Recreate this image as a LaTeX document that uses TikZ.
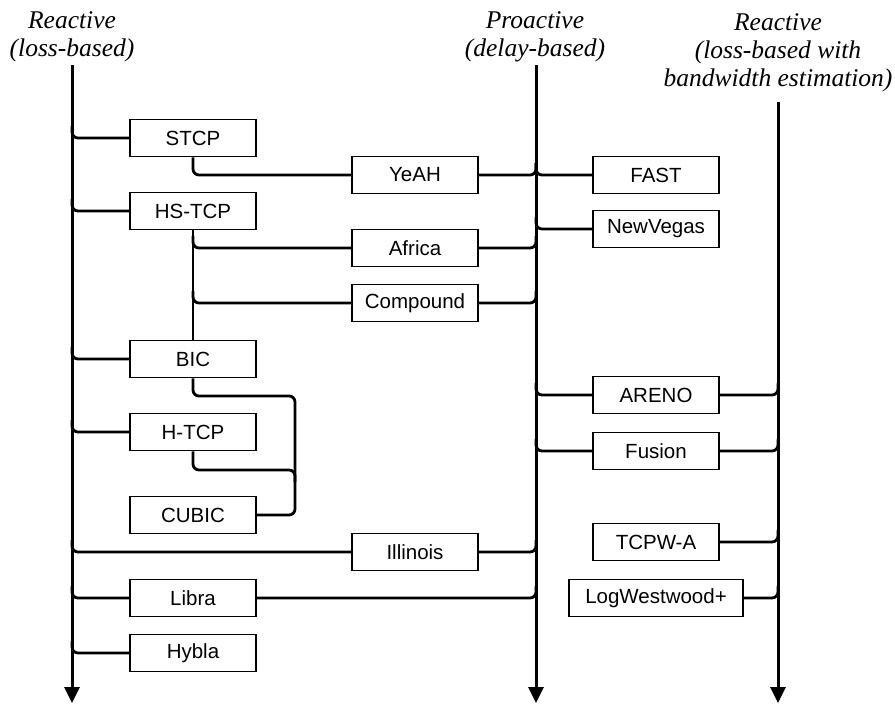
\documentclass[tikz,border=0pt]{standalone}
\usepackage{fontspec}
\setmainfont{Liberation Serif}
\newfontfamily\boxfont{Liberation Sans}
\usetikzlibrary{arrows.meta,calc}
\begin{document}
\begin{tikzpicture}[x=1pt,y=-1pt,
  algbox/.style={draw,fill=white,line width=1.8pt,minimum width=126pt,minimum height=37pt,inner sep=0pt,
    font=\boxfont\fontsize{20.5}{24}\selectfont},
  conn/.style={line width=2.8pt,rounded corners=6pt},
  axisline/.style={line width=3pt,-{Triangle[width=15pt,length=16pt]}},
  header/.style={align=center,font=\itshape\fontsize{25.5}{28}\selectfont,inner sep=0pt}]
\useasboundingbox (0,0) rectangle (895,704);
% axes
\coordinate (Ltop) at (72,65);  \coordinate (Lbot) at (72,703);
\coordinate (Mtop) at (536,65); \coordinate (Mbot) at (536,703);
\coordinate (Rtop) at (778,102);\coordinate (Rbot) at (778,703);
\draw[axisline] (Ltop) -- (Lbot);
\draw[axisline] (Mtop) -- (Mbot);
\draw[axisline] (Rtop) -- (Rbot);
% headers
\node[header] (h1) at (72,37) {Reactive\\(loss-based)};
\node[header] (h2) at (535,37) {Proactive\\(delay-based)};
\node[header] (h3) at (778,53) {Reactive\\(loss-based with\\bandwidth estimation)};
% left column
\node[algbox] (STCP) at (193,138) {STCP};
\node[algbox] (HSTCP) at (193,211) {HS-TCP};
\node[algbox] (BIC) at (193,359) {BIC};
\node[algbox] (HTCP) at (193,432) {H-TCP};
\node[algbox] (CUBIC) at (193,515) {CUBIC};
\node[algbox] (Libra) at (193,598) {Libra};
\node[algbox] (Hybla) at (193,653) {Hybla};
% middle column
\node[algbox] (YeAH) at (415,175) {YeAH};
\node[algbox] (Africa) at (415,248) {Africa};
\node[algbox] (Compound) at (415,303) {Compound};
\node[algbox] (Illinois) at (415,552) {Illinois};
% right column
\node[algbox] (FAST) at (656,175) {FAST};
\node[algbox] (NewVegas) at (656,229) {NewVegas};
\node[algbox] (ARENO) at (656,395) {ARENO};
\node[algbox] (Fusion) at (656,451) {Fusion};
\node[algbox] (TCPWA) at (656,542) {TCPW-A};
\node[algbox,minimum width=174pt] (LogW) at (656,598) {LogWestwood+};
% left axis branches
\foreach \b in {STCP,HSTCP,BIC,HTCP,Libra,Hybla,Illinois}
  \draw[conn] ($(Ltop|-\b.west)+(0,-12)$) -- (Ltop|-\b.west) -- (\b.west);
% STCP -> YeAH
\draw[conn] (STCP.south) -- (STCP.south|-YeAH.west) -- (YeAH.west);
% YeAH -> middle axis -> FAST
\draw[conn] (YeAH.east) -- (Mtop|-YeAH.east) -- ++(0,-12);
\draw[conn] ($(Mtop|-FAST.west)+(0,-12)$) -- (Mtop|-FAST.west) -- (FAST.west);
% HS-TCP tree
\draw[conn] (HSTCP.south) -- (BIC.north);
\draw[conn] ($(HSTCP.south|-Africa.west)+(0,-12)$) -- (HSTCP.south|-Africa.west) -- (Africa.west);
\draw[conn] ($(HSTCP.south|-Compound.west)+(0,-12)$) -- (HSTCP.south|-Compound.west) -- (Compound.west);
% middle boxes to middle axis
\foreach \b in {Africa,Compound,Illinois,Libra}
  \draw[conn] (\b.east) -- (Mtop|-\b.east) -- ++(0,-12);
% middle axis to right boxes
\foreach \b in {NewVegas,ARENO,Fusion}
  \draw[conn] ($(Mtop|-\b.west)+(0,-12)$) -- (Mtop|-\b.west) -- (\b.west);
% right boxes to right axis
\foreach \b in {ARENO,Fusion,TCPWA,LogW}
  \draw[conn] (\b.east) -- (Rtop|-\b.east) -- ++(0,-12);
% BIC / H-TCP -> CUBIC
\coordinate (bend) at (295,396);
\coordinate (hj) at (295,470);
\draw[conn] (BIC.south) -- (BIC.south|-bend) -- (bend) -- (bend|-CUBIC.east) -- (CUBIC.east);
\draw[conn] (HTCP.south) -- (HTCP.south|-hj) -- (hj) -- ++(0,12);
\end{tikzpicture}
\end{document}
